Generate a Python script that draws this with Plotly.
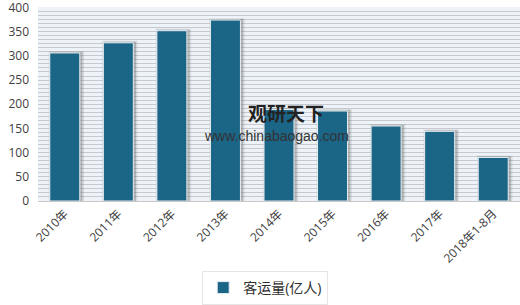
import plotly.graph_objects as go

categories = ["2010年", "2011年", "2012年", "2013年", "2014年", "2015年", "2016年", "2017年", "2018年1-8月"]
values = [306, 327, 352, 374, 189, 186, 155, 144, 90]
series_name = "客运量(亿人)"
y_ticks = [0, 50, 100, 150, 200, 250, 300, 350, 400]

font_family = "Open Sans, Noto Sans CJK SC, sans-serif"
bar_color = "#1b6587"

fig = go.Figure()
# soft shadow layers
fig.add_trace(go.Bar(x=categories, y=[v + 4 for v in values], width=0.66, offset=-0.30,
                     marker=dict(color="rgba(120,120,120,0.18)", line=dict(width=0)),
                     showlegend=False, hoverinfo="skip"))
fig.add_trace(go.Bar(x=categories, y=[v + 2 for v in values], width=0.60, offset=-0.27,
                     marker=dict(color="rgba(90,90,90,0.30)", line=dict(width=0)),
                     showlegend=False, hoverinfo="skip"))
fig.add_trace(go.Bar(x=categories, y=values, width=0.56, offset=-0.28, name=series_name,
                     marker=dict(color=bar_color, line=dict(color="#e8eef2", width=1))))

fig.update_layout(
    width=520, height=305,
    margin=dict(l=38, r=0, t=7, b=104, autoexpand=False),
    barmode="overlay",
    paper_bgcolor="white",
    plot_bgcolor="#edf3f8",
    font=dict(family=font_family, size=11, color="#404040"),
    showlegend=True,
    legend=dict(orientation="h", xref="container", yref="container", x=0.51, xanchor="center",
                y=-0.005, yanchor="bottom", itemwidth=30,
                bgcolor="white", bordercolor="#e6e6e6", borderwidth=1,
                font=dict(size=14, color="#303030")),
)
fig.add_annotation(text="<b>观研天下</b>", xref="paper", yref="paper", x=0.432, y=0.455,
                   xanchor="left", yanchor="middle", showarrow=False,
                   font=dict(size=19, color="#222222", family="Noto Sans CJK SC"))
fig.add_annotation(text="www.chinabaogao.com", xref="paper", yref="paper", x=0.34, y=0.335,
                   xanchor="left", yanchor="middle", showarrow=False,
                   font=dict(size=14, color="#333333", family="Liberation Sans"))

fig.update_xaxes(type="category", tickangle=-45, showgrid=False, ticks="", automargin=False,
                 tickfont=dict(size=12, color="#404040"), showline=True,
                 linecolor="#c8c8c8", linewidth=1)
fig.update_yaxes(range=[0, 401], tickvals=y_ticks, showgrid=True, gridcolor="#c6cace", gridwidth=1,
                 minor=dict(dtick=400 / 48, showgrid=True, gridcolor="#c6cace", gridwidth=1),
                 zeroline=False, ticks="", ticklabelstandoff=8, automargin=False,
                 ticklabeloverflow="allow",
                 tickfont=dict(size=12, color="#404040"))

fig.write_html("out.html")
